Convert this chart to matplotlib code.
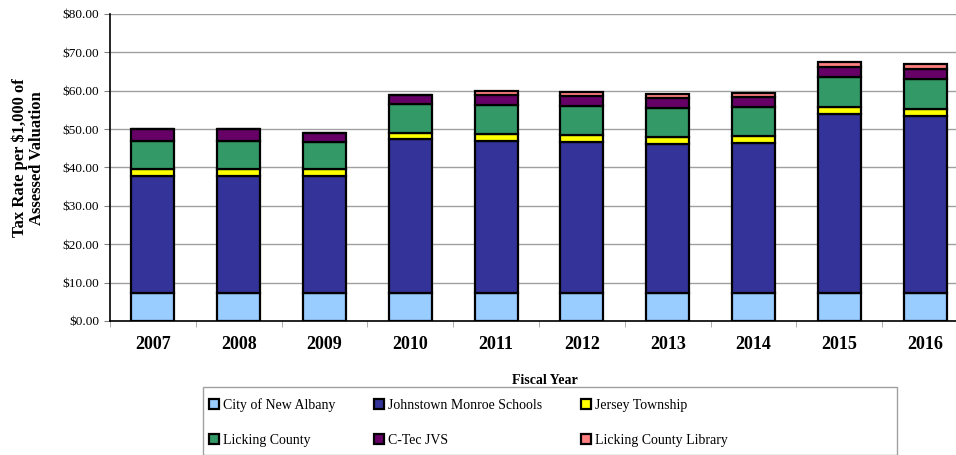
import numpy as np
import matplotlib
matplotlib.use("Agg")
import matplotlib.pyplot as plt
from matplotlib.patches import Rectangle

years = ["2007", "2008", "2009", "2010", "2011", "2012", "2013", "2014", "2015", "2016"]

city_new_albany = [7.2, 7.2, 7.2, 7.2, 7.2, 7.2, 7.2, 7.2, 7.2, 7.2]
johnstown_monroe = [30.66, 30.66, 30.66, 40.2, 39.7, 39.36, 38.9, 39.1, 46.74, 46.3]
jersey_township = [1.65, 1.65, 1.65, 1.65, 1.75, 1.9, 1.9, 1.9, 1.9, 1.8]
licking_county = [7.4, 7.4, 7.1, 7.4, 7.65, 7.5, 7.55, 7.5, 7.75, 7.85]
ctec_jvs = [3.1, 3.1, 2.5, 2.55, 2.6, 2.55, 2.5, 2.6, 2.6, 2.6]
licking_library = [0.0, 0.0, 0.0, 0.0, 1.1, 1.2, 1.15, 1.2, 1.2, 1.2]

series = [
    ("City of New Albany", city_new_albany, "#99CCFF"),
    ("Johnstown Monroe Schools", johnstown_monroe, "#333399"),
    ("Jersey Township", jersey_township, "#FFFF00"),
    ("Licking County", licking_county, "#339966"),
    ("C-Tec JVS", ctec_jvs, "#660066"),
    ("Licking County Library", licking_library, "#FF8080"),
]

plt.rcParams['font.family'] = ['Liberation Serif', 'DejaVu Serif']

W, H = 956, 455
fig = plt.figure(figsize=(W / 100, H / 100), dpi=100)
# axes spans past the right edge (the reference is cropped there)
ax = fig.add_axes([110 / W, (H - 321) / H, (968 - 110) / W, 307 / H])

x = np.arange(len(years))
bottom = np.zeros(len(years))
handles = []
for name, vals, col in series:
    vals = np.array(vals)
    b = ax.bar(x, vals, width=0.5, bottom=bottom, color=col, edgecolor="black",
               linewidth=1.6, label=name, zorder=3)
    bottom += vals
    handles.append(b)

ax.set_xlim(-0.5, len(years) - 0.5)
ax.set_ylim(0, 80)
ax.set_yticks(np.arange(0, 81, 10))
ax.set_yticklabels(["$%.2f" % v for v in np.arange(0, 81, 10)], fontsize=9.5)
ax.yaxis.grid(True, color="#A0A0A0", linewidth=1.0, zorder=0)
ax.set_axisbelow(True)

ax.set_xticks(x)
ax.set_xticklabels(years, fontsize=13, fontweight="bold")
ax.set_xticks(np.arange(-0.5, len(years), 1), minor=True)
ax.tick_params(axis="x", which="major", length=0, pad=11)
ax.tick_params(axis="x", which="minor", length=4, color="#A0A0A0", direction="out")
ax.tick_params(axis="y", length=4, color="#808080", pad=4)

for s in ["top", "right"]:
    ax.spines[s].set_visible(False)
ax.spines["left"].set_color("black")
ax.spines["bottom"].set_color("black")
ax.spines["left"].set_linewidth(1.2)
ax.spines["bottom"].set_linewidth(1.2)

fig.text(28 / W, 1 - 158 / H, "Tax Rate per $1,000 of\nAssessed Valuation",
         rotation=90, ha="center", va="center", multialignment="center",
         fontsize=12, fontweight="bold", linespacing=1.1)
fig.text(545 / W, 1 - 381 / H, "Fiscal Year", ha="center", va="center",
         fontsize=10, fontweight="bold")

# legend box, drawn wider than its content like the reference
fig.patches.append(Rectangle((203 / W, 0), (897 - 203) / W, (H - 387) / H,
                             transform=fig.transFigure, fill=False,
                             edgecolor="#A0A0A0", linewidth=1.0))
# row-major order for a 3-column legend
order = [0, 3, 1, 4, 2, 5]
leg = fig.legend(handles=[handles[i] for i in order],
                 loc="upper left",
                 bbox_to_anchor=(209 / W, 1 - 398 / H), ncol=3, frameon=False,
                 fontsize=10, handlelength=0.7, handleheight=0.7,
                 handletextpad=0.3, columnspacing=2.8, labelspacing=1.6,
                 borderpad=0, borderaxespad=0)

fig.savefig("out.png", dpi=100)
